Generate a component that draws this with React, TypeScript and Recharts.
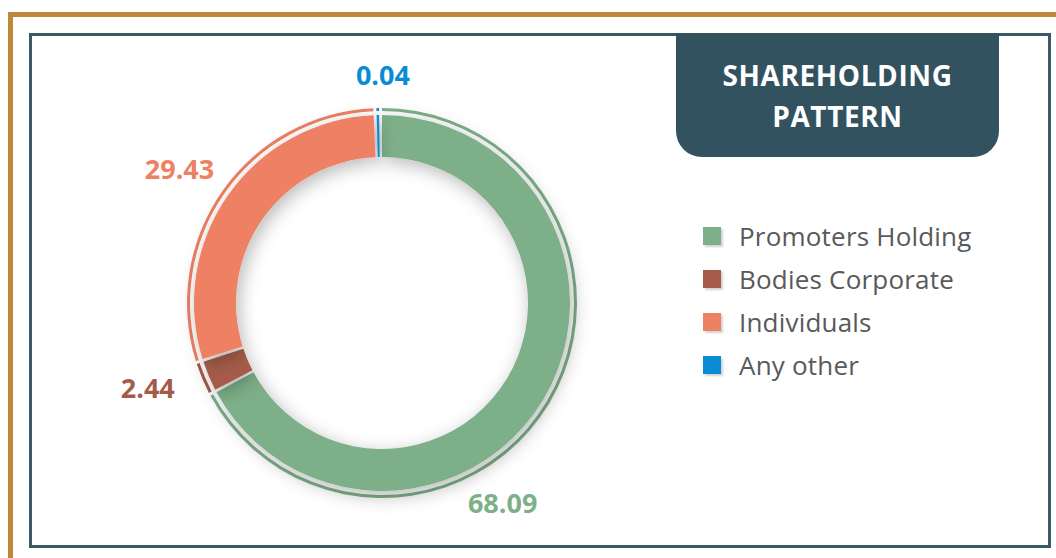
import React from 'react';
import { PieChart, Pie, Cell, Legend } from 'recharts';

const categories = ['Promoters Holding', 'Bodies Corporate', 'Individuals', 'Any other'];
const holdings = [68.09, 2.44, 29.43, 0.04];
const COLORS = ['#7DAF88', '#A55B4A', '#EE8064', '#0A8CD4'];

// nudges so the labels sit where the original slide put them
const LABEL_SHIFT = [-28, -3, 1.5, -1.5];
const LABEL_RADIUS = [233, 249, 243, 229];

const data = categories.map((name, i) => ({ name, value: holdings[i] }));

const FONT = '"Open Sans", "DejaVu Sans", sans-serif';
const RADIAN = Math.PI / 180;

const renderLabel = (props: any) => {
  const { cx, cy, midAngle, index, value } = props;
  const angle = midAngle + LABEL_SHIFT[index];
  const r = LABEL_RADIUS[index];
  const x = cx + r * Math.cos(-angle * RADIAN);
  const y = cy + r * Math.sin(-angle * RADIAN);
  return (
    <text
      x={x}
      y={y}
      fill={COLORS[index]}
      textAnchor="middle"
      dominantBaseline="central"
      fontFamily={FONT}
      fontWeight={700}
      fontSize={27}
    >
      {value.toFixed(2)}
    </text>
  );
};

const LegendList = () => (
  <div style={{ fontFamily: FONT }}>
    {categories.map((name, i) => (
      <div key={name} style={{ display: 'flex', alignItems: 'center', height: 43 }}>
        <span
          style={{
            width: 18,
            height: 18,
            background: COLORS[i],
            boxShadow: '2px 2px 2px rgba(0,0,0,0.18)',
            marginRight: 18,
          }}
        />
        <span style={{ fontSize: 26, color: '#595959', letterSpacing: 0.2 }}>{name}</span>
      </div>
    ))}
  </div>
);

const App: React.FC = () => {
  return (
    <div style={{ position: 'absolute', left: 0, top: 0, width: 1056, height: 558, background: '#fff', overflow: 'hidden' }}>
      <svg width={0} height={0} style={{ position: 'absolute' }}>
        <defs>
          <filter id="ringShadow" x="-30%" y="-30%" width="160%" height="160%">
            <feDropShadow dx={3} dy={5} stdDeviation={9} floodColor="#000" floodOpacity={0.28} />
          </filter>
        </defs>
      </svg>

      {/* gold frame */}
      <div
        style={{
          position: 'absolute',
          left: 8,
          top: 12,
          width: 1048,
          height: 546,
          borderTop: '5px solid #BD8839',
          borderLeft: '5px solid #BD8839',
          boxSizing: 'border-box',
        }}
      />
      {/* inner box */}
      <div
        style={{
          position: 'absolute',
          left: 29,
          top: 33,
          width: 1022,
          height: 515,
          border: '3px solid #3C5967',
          boxSizing: 'border-box',
        }}
      />

      <div style={{ position: 'absolute', left: 0, top: 0 }}>
        <PieChart width={1056} height={558} margin={{ top: 0, right: 0, bottom: 0, left: 0 }}>
          <Pie
            data={data}
            dataKey="value"
            nameKey="name"
            cx={382}
            cy={303}
            startAngle={90}
            endAngle={-270}
            innerRadius={192}
            outerRadius={195}
            paddingAngle={0.9}
            minAngle={0.6}
            stroke="none"
            legendType="none"
            isAnimationActive={false}
          >
            {data.map((entry, index) => (
              <Cell key={`edge-${index}`} fill={COLORS[index]} />
            ))}
          </Pie>
          <Pie
            data={data}
            dataKey="value"
            nameKey="name"
            cx={382}
            cy={303}
            startAngle={90}
            endAngle={-270}
            innerRadius={146}
            outerRadius={188}
            paddingAngle={0.9}
            minAngle={0.6}
            stroke="none"
            label={renderLabel}
            labelLine={false}
            isAnimationActive={false}
          >
            {data.map((entry, index) => (
              <Cell key={`cell-${index}`} fill={COLORS[index]} filter="url(#ringShadow)" />
            ))}
          </Pie>
          <Legend
            layout="vertical"
            align="right"
            verticalAlign="top"
            content={() => <LegendList />}
            wrapperStyle={{ left: 703, top: 214, width: 330 }}
          />
        </PieChart>
      </div>

      {/* title tab */}
      <div
        style={{
          position: 'absolute',
          left: 676,
          top: 33,
          width: 323,
          height: 124,
          paddingTop: 2,
          boxSizing: 'border-box',
          background: '#33525F',
          borderBottomLeftRadius: 26,
          borderBottomRightRadius: 26,
          display: 'flex',
          alignItems: 'center',
          justifyContent: 'center',
          textAlign: 'center',
          color: '#fff',
          fontFamily: FONT,
          fontWeight: 700,
          fontSize: 28,
          letterSpacing: 0.6,
          lineHeight: '41px',
        }}
      >
        SHAREHOLDING
        <br />
        PATTERN
      </div>
    </div>
  );
};

export default App;
